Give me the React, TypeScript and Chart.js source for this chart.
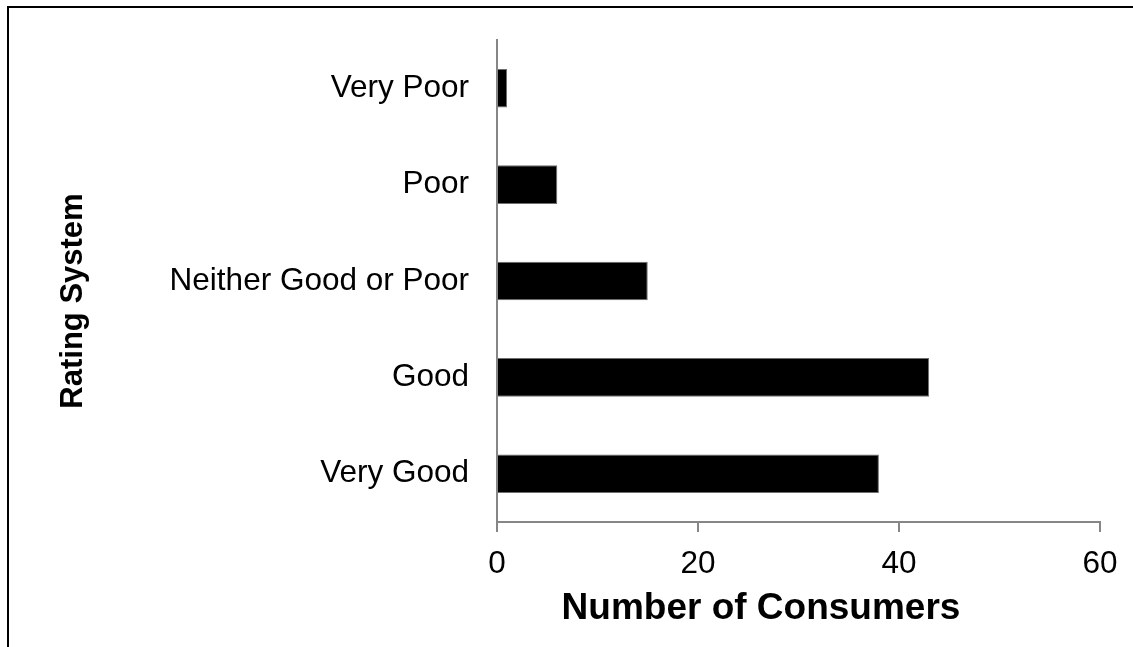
import React, { useEffect, useRef } from "react";
import { Chart, registerables } from "chart.js";

Chart.register(...registerables);

// Survey results: how consumers rated the product
const categories = ["Very Poor", "Poor", "Neither Good or Poor", "Good", "Very Good"];
const consumers = [1, 6, 15, 43, 38];
const xMin = 0;
const xMax = 60;
const xStep = 20;
const xTitle = "Number of Consumers";
const yTitle = "Rating System";

const FONT = '"Liberation Sans", Arial, Helvetica, sans-serif';
const AXIS_GREY = "#868686";

// Draws the two bold axis titles at their own positions
const axisTitles = {
  id: "axisTitles",
  afterDraw(chart: Chart) {
    const { ctx } = chart;
    ctx.save();
    ctx.fillStyle = "#000";
    ctx.textAlign = "center";
    ctx.textBaseline = "middle";
    ctx.font = `bold 37px ${FONT}`;
    ctx.fillText(xTitle, 761, 609);
    ctx.translate(73, 301);
    ctx.rotate(-Math.PI / 2);
    ctx.font = `bold 31px ${FONT}`;
    ctx.fillText(yTitle, 0, 0);
    ctx.restore();
  },
};

export default function App() {
  const canvasRef = useRef<HTMLCanvasElement | null>(null);

  useEffect(() => {
    const canvas = canvasRef.current;
    if (!canvas) return;
    const chart = new Chart(canvas, {
      type: "bar",
      data: {
        labels: categories,
        datasets: [
          {
            data: consumers,
            backgroundColor: "#000000",
            borderColor: "#6e6e6e",
            borderWidth: 1,
            barPercentage: 0.4,
            categoryPercentage: 1,
          },
        ],
      },
      options: {
        indexAxis: "y",
        responsive: false,
        maintainAspectRatio: false,
        animation: false,
        layout: { padding: { top: 40, right: 33, bottom: 0, left: 0 } },
        plugins: {
          legend: { display: false },
          tooltip: { enabled: false },
        },
        scales: {
          x: {
            type: "linear",
            min: xMin,
            max: xMax,
            ticks: {
              stepSize: xStep,
              color: "#000",
              font: { family: FONT, size: 31.5 },
              padding: 13,
              maxRotation: 0,
            },
            grid: {
              drawOnChartArea: false,
              drawTicks: true,
              tickLength: 10,
              color: AXIS_GREY,
              lineWidth: 2,
            },
            border: { display: true, color: AXIS_GREY, width: 2 },
            afterFit: (scale: any) => {
              scale.height = 125;
            },
          },
          y: {
            ticks: {
              color: "#000",
              font: { family: FONT, size: 31.5 },
              padding: 28,
            },
            grid: { drawOnChartArea: false, drawTicks: false },
            border: { display: true, color: AXIS_GREY, width: 2 },
            afterFit: (scale: any) => {
              scale.width = 497;
              scale.paddingTop = 0;
              scale.paddingBottom = 0;
            },
          },
        },
      },
      plugins: [axisTitles],
    });
    return () => chart.destroy();
  }, []);

  return (
    <div>
      <div
        style={{
          position: "fixed",
          left: 7,
          top: 6,
          width: 1200,
          height: 700,
          borderTop: "2px solid #000",
          borderLeft: "2px solid #000",
          background: "#fff",
        }}
      />
      <canvas
        ref={canvasRef}
        width={1133}
        height={647}
        style={{ position: "fixed", left: 0, top: 0, width: 1133, height: 647 }}
      />
    </div>
  );
}
